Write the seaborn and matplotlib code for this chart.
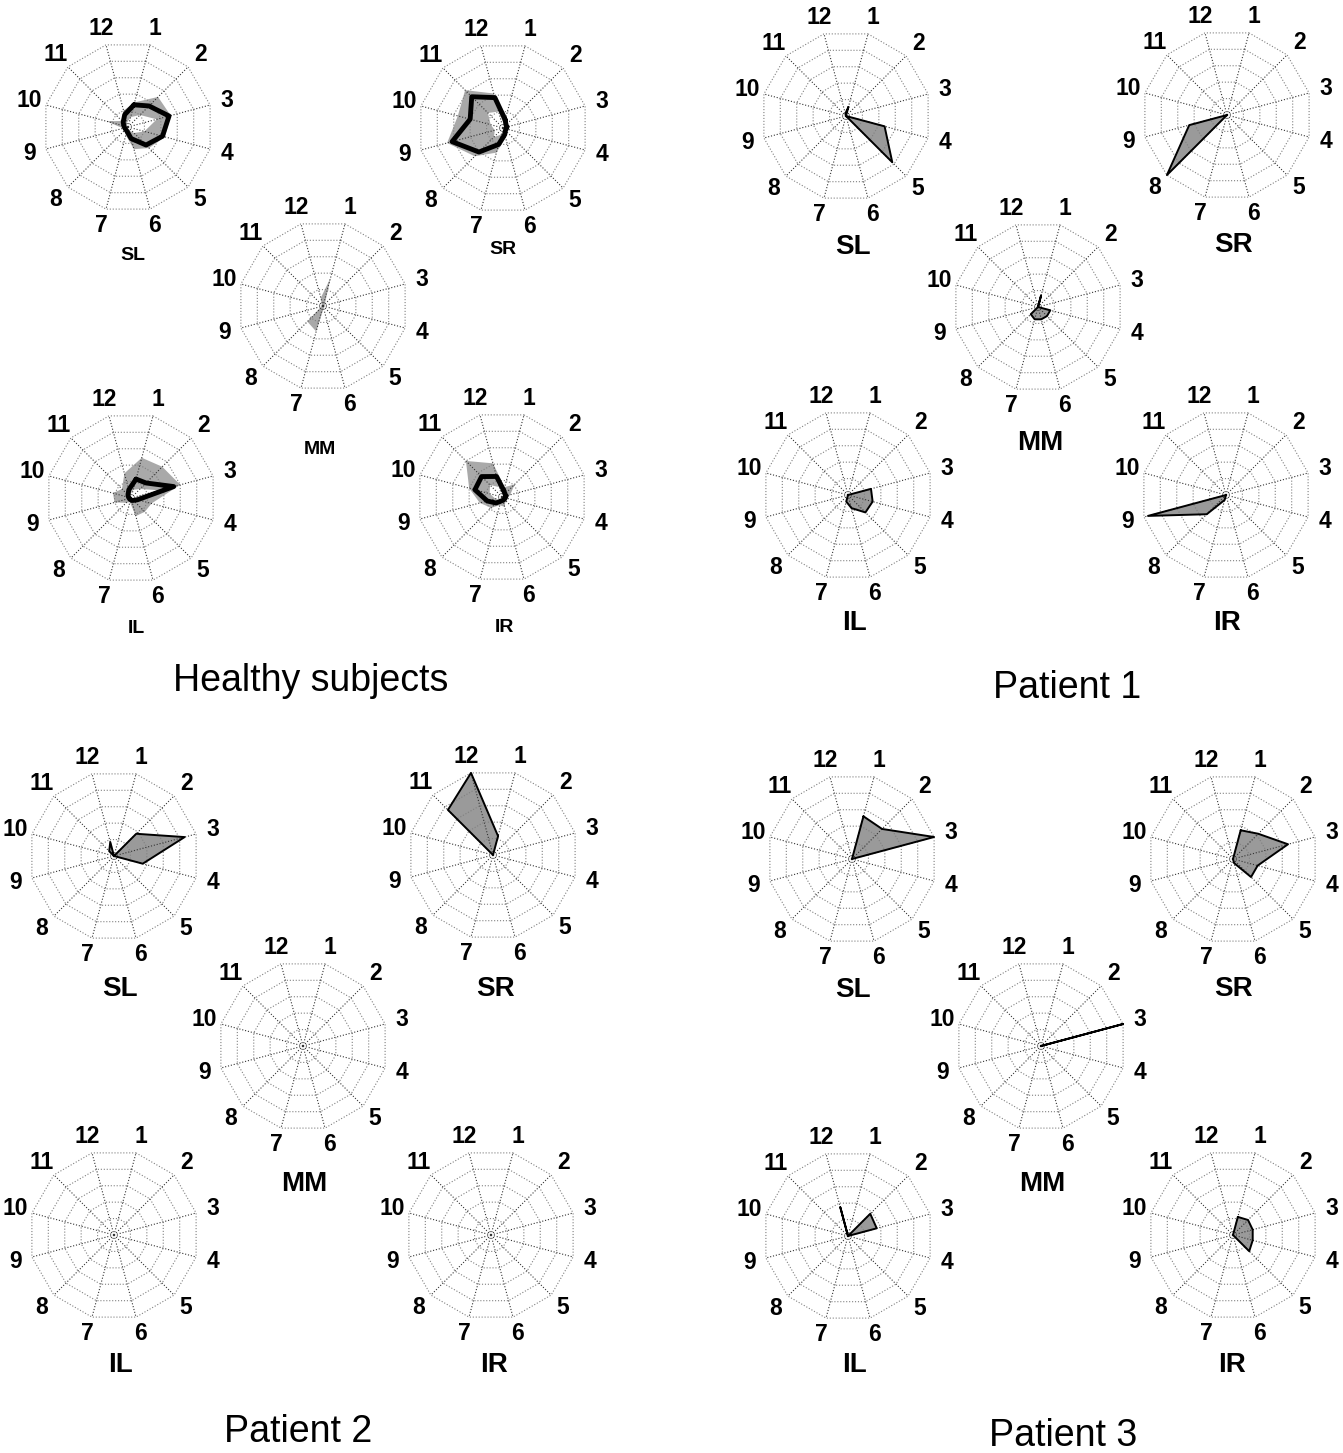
import numpy as np
import pandas as pd
import seaborn as sns
import matplotlib
matplotlib.use("Agg")
import matplotlib.pyplot as plt

# 12 clock directions, radius as fraction of the outer ring
directions = list(range(1, 13))
areas = ["SL", "SR", "MM", "IL", "IR"]
ring_levels = [0.2, 0.4, 0.6, 0.8, 1.0]

# healthy subjects: upper / lower edge of the grey band and the mean (thick line)
healthy_upper = {
    "SL": [0.30, 0.50, 0.52, 0.45, 0.35, 0.27, 0.10, 0.06, 0.06, 0.26, 0.10, 0.20],
    "SR": [0.15, 0.08, 0.06, 0.06, 0.06, 0.12, 0.30, 0.47, 0.68, 0.55, 0.63, 0.42],
    "MM": [0.34, 0.03, 0.02, 0.02, 0.02, 0.03, 0.31, 0.26, 0.02, 0.02, 0.02, 0.10],
    "IL": [0.49, 0.52, 0.60, 0.25, 0.23, 0.22, 0.05, 0.08, 0.20, 0.22, 0.15, 0.30],
    "IR": [0.12, 0.21, 0.10, 0.06, 0.06, 0.12, 0.10, 0.18, 0.27, 0.40, 0.60, 0.41],
}
healthy_lower = {
    "SL": [0.12, 0.20, 0.35, 0.20, 0.10, 0.04, 0.02, 0.02, 0.02, 0.02, 0.02, 0.05],
    "SR": [0.04, 0.02, 0.02, 0.02, 0.02, 0.02, 0.08, 0.15, 0.10, 0.15, 0.25, 0.20],
    "MM": [0, 0, 0, 0, 0, 0, 0, 0, 0, 0, 0, 0],
    "IL": [0.10, 0.15, 0.35, 0.02, 0.02, 0.02, 0, 0, 0, 0, 0.02, 0.04],
    "IR": [0.03, 0.02, 0.02, 0.02, 0.02, 0.02, 0.02, 0.05, 0.08, 0.15, 0.20, 0.12],
}
healthy_mean = {
    "SL": [0.27, 0.35, 0.50, 0.42, 0.30, 0.14, 0.05, 0.04, 0.04, 0.05, 0.08, 0.15],
    "SR": [0.10, 0.05, 0.05, 0.04, 0.04, 0.08, 0.20, 0.40, 0.62, 0.40, 0.52, 0.37],
    "MM": [0, 0, 0, 0, 0, 0, 0, 0, 0, 0, 0, 0],
    "IL": [0.23, 0.25, 0.52, 0.08, 0.04, 0.03, 0.02, 0.02, 0.02, 0.03, 0.05, 0.10],
    "IR": [0.08, 0.05, 0.05, 0.04, 0.04, 0.04, 0.05, 0.10, 0.18, 0.33, 0.34, 0.25],
}

patient1 = {
    "SL": [0.11, 0, 0, 0.47, 0.77, 0, 0, 0, 0, 0, 0, 0.03],
    "SR": [0, 0, 0, 0, 0, 0, 0, 1.0, 0.46, 0, 0, 0],
    "MM": [0.14, 0, 0, 0.15, 0.15, 0.15, 0.15, 0.12, 0, 0, 0, 0],
    "IL": [0, 0, 0.28, 0.30, 0.29, 0.16, 0.08, 0, 0, 0, 0, 0],
    "IR": [0, 0, 0, 0, 0, 0, 0.06, 0.32, 0.95, 0, 0, 0],
}
patient2 = {
    "SL": [0, 0.37, 0.86, 0.35, 0, 0, 0, 0, 0, 0, 0.08, 0.17],
    "SR": [0.23, 0, 0, 0, 0, 0, 0, 0, 0, 0, 0.75, 1.0],
    "MM": [0, 0, 0, 0, 0, 0, 0, 0, 0, 0, 0, 0],
    "IL": [0, 0, 0, 0, 0, 0, 0, 0, 0, 0, 0, 0],
    "IR": [0, 0, 0, 0, 0, 0, 0, 0, 0, 0, 0, 0],
}
patient3 = {
    "SL": [0.52, 0.50, 1.0, 0, 0, 0, 0, 0, 0, 0, 0, 0],
    "SR": [0.35, 0.42, 0.67, 0.30, 0.30, 0.05, 0, 0, 0, 0, 0, 0],
    "MM": [0, 0, 1.0, 0, 0, 0, 0, 0, 0, 0, 0, 0],
    "IL": [0, 0.37, 0.35, 0, 0, 0, 0, 0, 0, 0, 0, 0.35],
    "IR": [0.22, 0.25, 0.24, 0.24, 0.27, 0, 0, 0, 0, 0, 0, 0],
}

group_titles = ["Healthy subjects", "Patient 1", "Patient 2", "Patient 3"]

# layout in pixels (figure 1343 x 1453)
W, H = 1343, 1453
R_PX = 85          # outer ring radius
LIM = 1.35
centres = [
    {"SL": (128, 127), "SR": (503, 128), "MM": (323, 306), "IL": (131, 498), "IR": (502, 497)},
    {"SL": (846, 116), "SR": (1227, 115), "MM": (1038, 307), "IL": (848, 495), "IR": (1226, 495)},
    {"SL": (114, 856), "SR": (493, 855), "MM": (303, 1046), "IL": (114, 1235), "IR": (491, 1235)},
    {"SL": (852, 859), "SR": (1233, 859), "MM": (1041, 1046), "IL": (848, 1236), "IR": (1233, 1235)},
]
area_label_pos = [
    {"SL": (133, 255), "SR": (503, 249), "MM": (320, 449), "IL": (136, 628), "IR": (504, 627)},
    {"SL": (853, 247), "SR": (1233, 245), "MM": (1040, 443), "IL": (855, 623), "IR": (1227, 623)},
    {"SL": (120, 989), "SR": (495, 989), "MM": (304, 1184), "IL": (120, 1365), "IR": (494, 1365)},
    {"SL": (853, 990), "SR": (1233, 989), "MM": (1042, 1184), "IL": (855, 1365), "IR": (1232, 1365)},
]
area_label_size = [14, 20, 20, 20]
title_pos = [(311, 681), (1067, 688), (298, 1432), (1063, 1436)]

sns.set_style("white")
plt.rcParams["font.family"] = ["Liberation Sans", "DejaVu Sans"]
plt.rcParams["text.color"] = "black"

theta = np.deg2rad((np.array(directions) - 0.5) * 30.0)


def to_xy(values):
    r = np.asarray(values, dtype=float)
    x = r * np.sin(theta)
    y = r * np.cos(theta)
    return np.append(x, x[0]), np.append(y, y[0])


def make_axes(fig, cx, cy):
    half = LIM * R_PX
    ax = fig.add_axes([(cx - half) / W, 1 - (cy + half) / H, 2 * half / W, 2 * half / H])
    ax.axis("off")
    ax.patch.set_visible(False)
    return ax


def draw_grid(ax):
    for lev in ring_levels:
        gx, gy = to_xy([lev] * 12)
        ax.plot(gx, gy, ls=":", color="0.5", lw=0.8, zorder=3)
    ox, oy = to_xy([1.0] * 12)
    for i in range(12):
        ax.plot([0, ox[i]], [0, oy[i]], ls=":", color="0.2", lw=0.8, zorder=3)
    lx, ly = to_xy([1.2] * 12)
    for i, d in enumerate(directions):
        ax.text(lx[i], ly[i], str(d), ha="center", va="center",
                fontsize=16.5, fontweight="bold", color="black")


fig = plt.figure(figsize=(W / 100, H / 100), dpi=100)

for g in range(4):
    for area in areas:
        cx, cy = centres[g][area]
        ax = make_axes(fig, cx, cy)
        if g == 0:
            ux, uy = to_xy(healthy_upper[area])
            ax.fill(ux, uy, color="#a9a9a9", lw=0, zorder=1)
            lx_, ly_ = to_xy(healthy_lower[area])
            ax.fill(lx_, ly_, color="white", lw=0, zorder=2)
            draw_grid(ax)
            mx, my = to_xy(healthy_mean[area])
            sns.lineplot(x=mx, y=my, sort=False, estimator=None, color="black",
                         lw=3.5, ax=ax, zorder=4)
        else:
            vals = [patient1, patient2, patient3][g - 1][area]
            px, py = to_xy(vals)
            ax.fill(px, py, color="#9a9a9a", lw=0, zorder=1)
            draw_grid(ax)
            sns.lineplot(x=px, y=py, sort=False, estimator=None, color="black",
                         lw=1.4, ax=ax, zorder=4)
        ax.set_xlim(-LIM, LIM)
        ax.set_ylim(-LIM, LIM)
        tx, ty = area_label_pos[g][area]
        fig.text(tx / W, 1 - ty / H, area, ha="center", va="center",
                 fontsize=area_label_size[g], fontweight="bold", color="black")
    tx, ty = title_pos[g]
    fig.text(tx / W, 1 - ty / H, group_titles[g], ha="center", va="center",
             fontsize=27, color="black")

fig.savefig("out.png", dpi=100)
